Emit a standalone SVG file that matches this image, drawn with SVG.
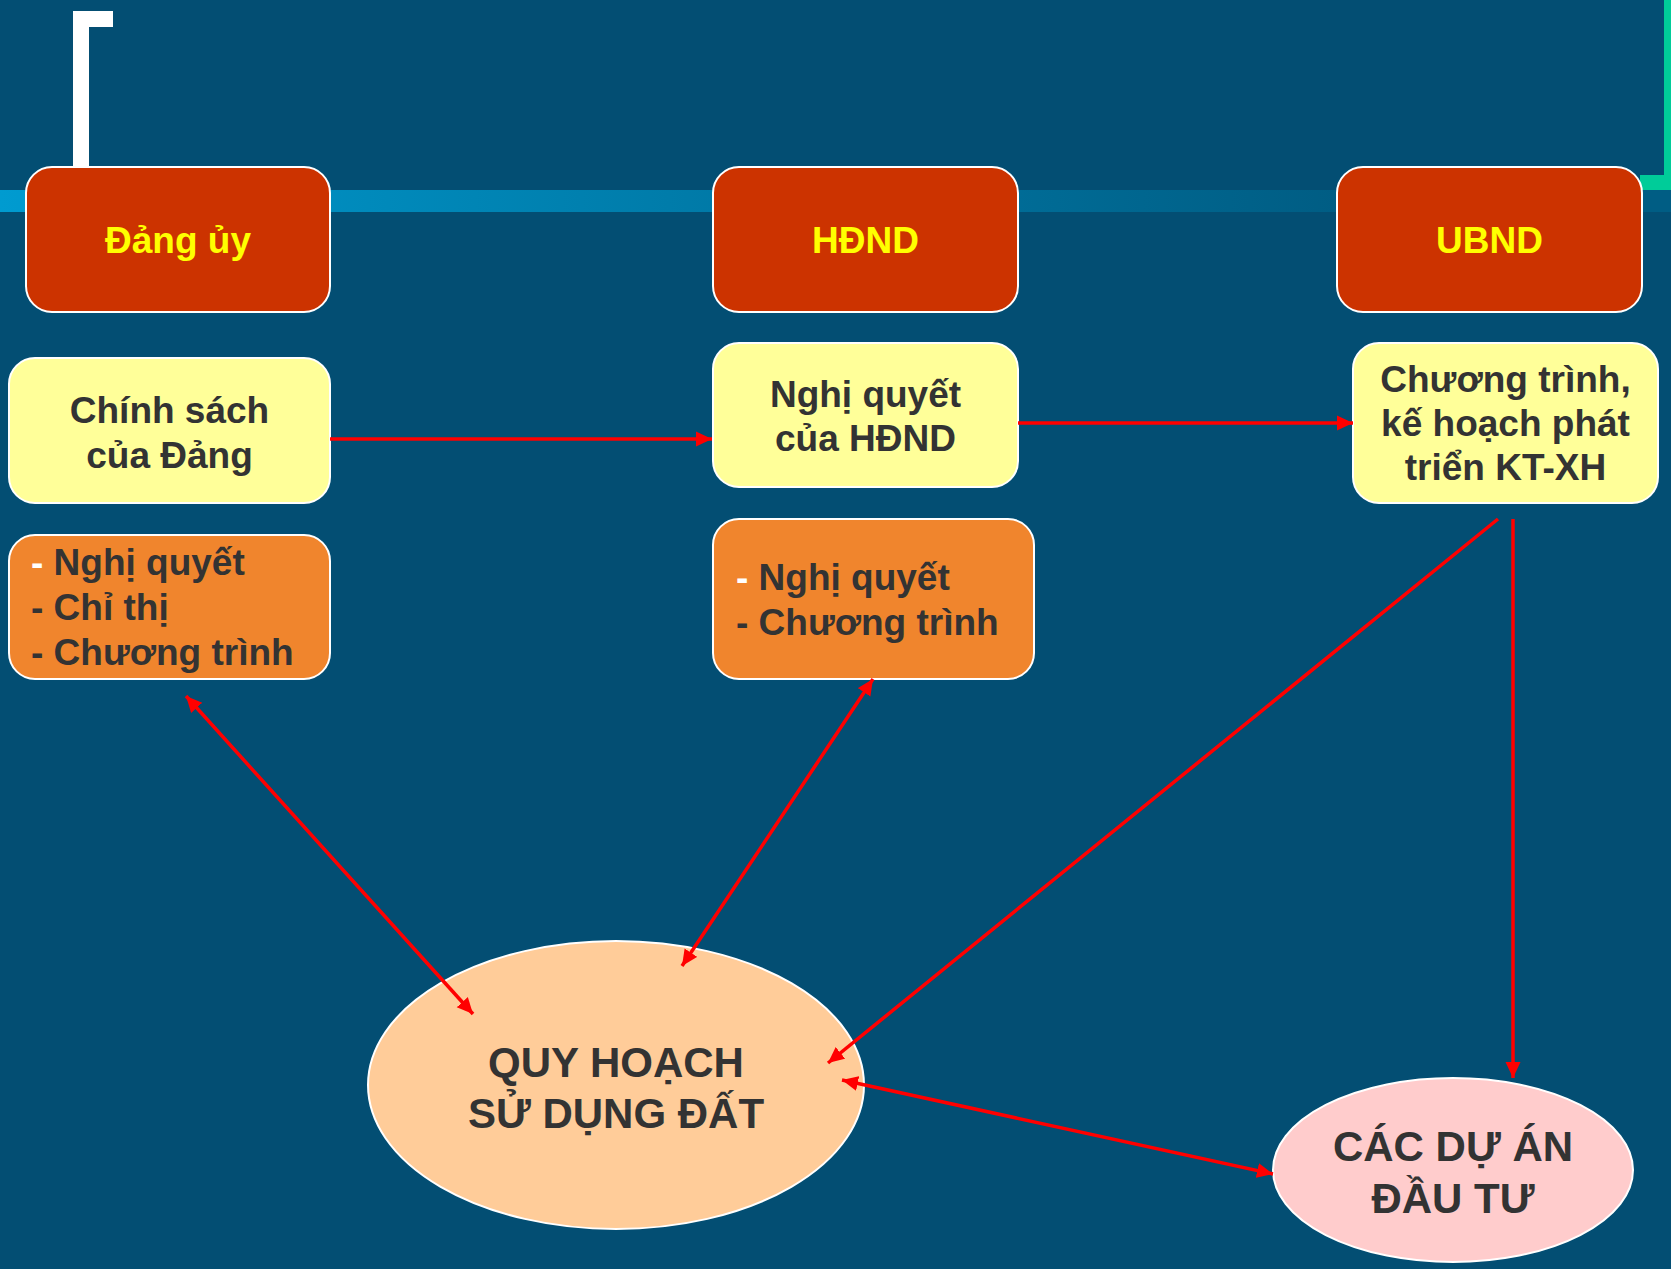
<svg xmlns="http://www.w3.org/2000/svg" width="1671" height="1269" viewBox="0 0 1671 1269">
<style>
.hdr rect{fill:#CC3300;stroke:#FFFFFF;stroke-width:2}
.hdr text{fill:#FFFF00;font-family:"Liberation Sans",Arial,sans-serif;font-weight:bold;font-size:37px;text-anchor:middle}
.yel rect{fill:#FFFF99;stroke:#FFFFFF;stroke-width:2}
.org rect{fill:#F0852D;stroke:#FFFFFF;stroke-width:2}
.txt{fill:#333333;font-family:"Liberation Sans",Arial,sans-serif;font-weight:bold;font-size:37px}
.ctr{text-anchor:middle}
.ell{font-size:42px}
.w{fill:#FFFFFF}
.conn{stroke:#FF0000;stroke-width:3.5;fill:none}
</style>
<defs>
<linearGradient id="band" x1="0" y1="0" x2="1671" y2="0" gradientUnits="userSpaceOnUse">
<stop offset="0" stop-color="#009BD0"/>
<stop offset="0.8" stop-color="#005D84"/>
<stop offset="1" stop-color="#005D84"/>
</linearGradient>
<marker id="ah" markerUnits="userSpaceOnUse" markerWidth="17" markerHeight="16" refX="16" refY="8" orient="auto-start-reverse" viewBox="0 0 17 16">
<path d="M0,0.5 L16,8 L0,15.5 z" fill="#FF0000"/>
</marker>
</defs>
<rect x="0" y="0" width="1671" height="1269" fill="#034E73"/>
<g id="decor">
<rect x="0" y="190" width="1671" height="22" fill="url(#band)"/>
<rect x="73" y="11" width="16" height="160" fill="#FFFFFF"/>
<rect x="73" y="11" width="40" height="16" fill="#FFFFFF"/>
<rect x="1664" y="0" width="7" height="190" fill="#00CC99"/>
<rect x="1640" y="175" width="31" height="15" fill="#00CC99"/>
</g>
<g id="dang-uy" class="hdr">
<rect x="26" y="167" width="304" height="145" rx="26"/>
<text x="178" y="253">Đảng ủy</text>
</g>
<g id="hdnd" class="hdr">
<rect x="713" y="167" width="305" height="145" rx="26"/>
<text x="865.5" y="253">HĐND</text>
</g>
<g id="ubnd" class="hdr">
<rect x="1337" y="167" width="305" height="145" rx="26"/>
<text x="1489.5" y="253">UBND</text>
</g>
<g id="chinh-sach" class="yel">
<rect x="9" y="358" width="321" height="145" rx="26"/>
<text class="txt ctr" x="169.5" y="423">Chính sách</text>
<text class="txt ctr" x="169.5" y="468">của Đảng</text>
</g>
<g id="nghi-quyet-hdnd" class="yel">
<rect x="713" y="343" width="305" height="144" rx="26"/>
<text class="txt ctr" x="865.5" y="407">Nghị quyết</text>
<text class="txt ctr" x="865.5" y="451">của HĐND</text>
</g>
<g id="chuong-trinh-ktxh" class="yel">
<rect x="1353" y="343" width="305" height="160" rx="26"/>
<text class="txt ctr" x="1505.5" y="392">Chương trình,</text>
<text class="txt ctr" x="1505.5" y="436">kế hoạch phát</text>
<text class="txt ctr" x="1505.5" y="480">triển KT-XH</text>
</g>
<g id="dang-van-ban" class="org">
<rect x="9" y="535" width="321" height="144" rx="26"/>
<text class="txt" x="31" y="575"><tspan class="w">-</tspan> Nghị quyết</text>
<text class="txt" x="31" y="620">- Chỉ thị</text>
<text class="txt" x="31" y="665">- Chương trình</text>
</g>
<g id="hdnd-van-ban" class="org">
<rect x="713" y="519" width="321" height="160" rx="26"/>
<text class="txt" x="736" y="590"><tspan class="w">-</tspan> Nghị quyết</text>
<text class="txt" x="736" y="635">- Chương trình</text>
</g>
<g id="quy-hoach">
<ellipse cx="616" cy="1085" rx="248" ry="144" fill="#FFCC99" stroke="#FFFFFF" stroke-width="2"/>
<text class="txt ctr ell" x="616" y="1077">QUY HOẠCH </text>
<text class="txt ctr ell" x="616" y="1128">SỬ DỤNG ĐẤT</text>
</g>
<g id="du-an">
<ellipse cx="1453" cy="1170" rx="180" ry="92" fill="#FFCCCC" stroke="#FFFFFF" stroke-width="2"/>
<text class="txt ctr ell" x="1453" y="1161">CÁC DỰ ÁN</text>
<text class="txt ctr ell" x="1453" y="1213">ĐẦU TƯ</text>
</g>
<g id="connectors">
<line class="conn" x1="330" y1="439" x2="712" y2="439" marker-end="url(#ah)"/>
<line class="conn" x1="1018" y1="423" x2="1353" y2="423" marker-end="url(#ah)"/>
<line class="conn" x1="186" y1="696" x2="473" y2="1014" marker-start="url(#ah)" marker-end="url(#ah)"/>
<line class="conn" x1="873" y1="679" x2="682" y2="966" marker-start="url(#ah)" marker-end="url(#ah)"/>
<line class="conn" x1="1498" y1="519" x2="828" y2="1063" marker-end="url(#ah)"/>
<line class="conn" x1="1513" y1="519" x2="1513" y2="1078" marker-end="url(#ah)"/>
<line class="conn" x1="842" y1="1080" x2="1273" y2="1174" marker-start="url(#ah)" marker-end="url(#ah)"/>
</g>
</svg>
